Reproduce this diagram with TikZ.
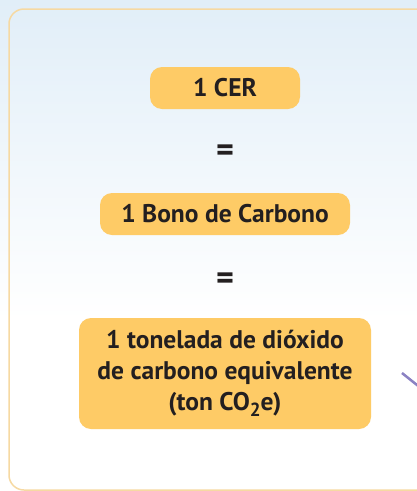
\documentclass[tikz,border=0pt]{standalone}
\usepackage{fontspec}
\setmainfont{PT Sans}
\usetikzlibrary{positioning}
\definecolor{bgblue}{HTML}{E1EEF8}
\definecolor{framecol}{HTML}{F6D9A2}
\definecolor{bonoyellow}{HTML}{FECB66}
\definecolor{textdark}{HTML}{231F20}
\definecolor{linkpurple}{HTML}{8B82C3}
\tikzset{
every node/.style={text=textdark}, % dark text everywhere
valuebox/.style={fill=bonoyellow, rounded corners=12pt, inner sep=0pt, align=center, font=\bfseries\fontsize{25.5}{31}\selectfont}, % the yellow boxes
eqsign/.style={font=\bfseries\fontsize{34}{34}\selectfont}, % the equal signs
}
\begin{document}
\begin{tikzpicture}[x=1pt,y=-1pt]
\useasboundingbox (0,0) rectangle (417,491);
\shade[top color=bgblue, bottom color=white] (0,0) rectangle (417,320);
\fill[white] (0,320) rectangle (417,491);
\draw[framecol, line width=1.5pt, rounded corners=15pt] (9,490) rectangle (445,9);

\node[valuebox, minimum width=150pt, minimum height=42pt] (cer) at (225,88) {1 CER};
\node[eqsign, below of=cer, node distance=65pt] (eq1) {=};
\node[valuebox, minimum width=250pt, minimum height=42pt, below of=eq1, node distance=61pt] (bono) {1 Bono de Carbono};
\node[eqsign, below of=bono, node distance=67pt] (eq2) {=};
\node[valuebox, minimum width=292pt, minimum height=111pt, below of=eq2, node distance=92.5pt] (ton) {1 tonelada de dióxido\\de carbono equivalente\\(ton CO\raisebox{-6pt}{\fontsize{19}{19}\selectfont 2}e)};

\coordinate (linkstart) at (402,373);
\coordinate (linkend) at (422,389);
\draw[linkpurple, line width=2.5pt] (linkstart) -- (linkend);
\end{tikzpicture}
\end{document}
